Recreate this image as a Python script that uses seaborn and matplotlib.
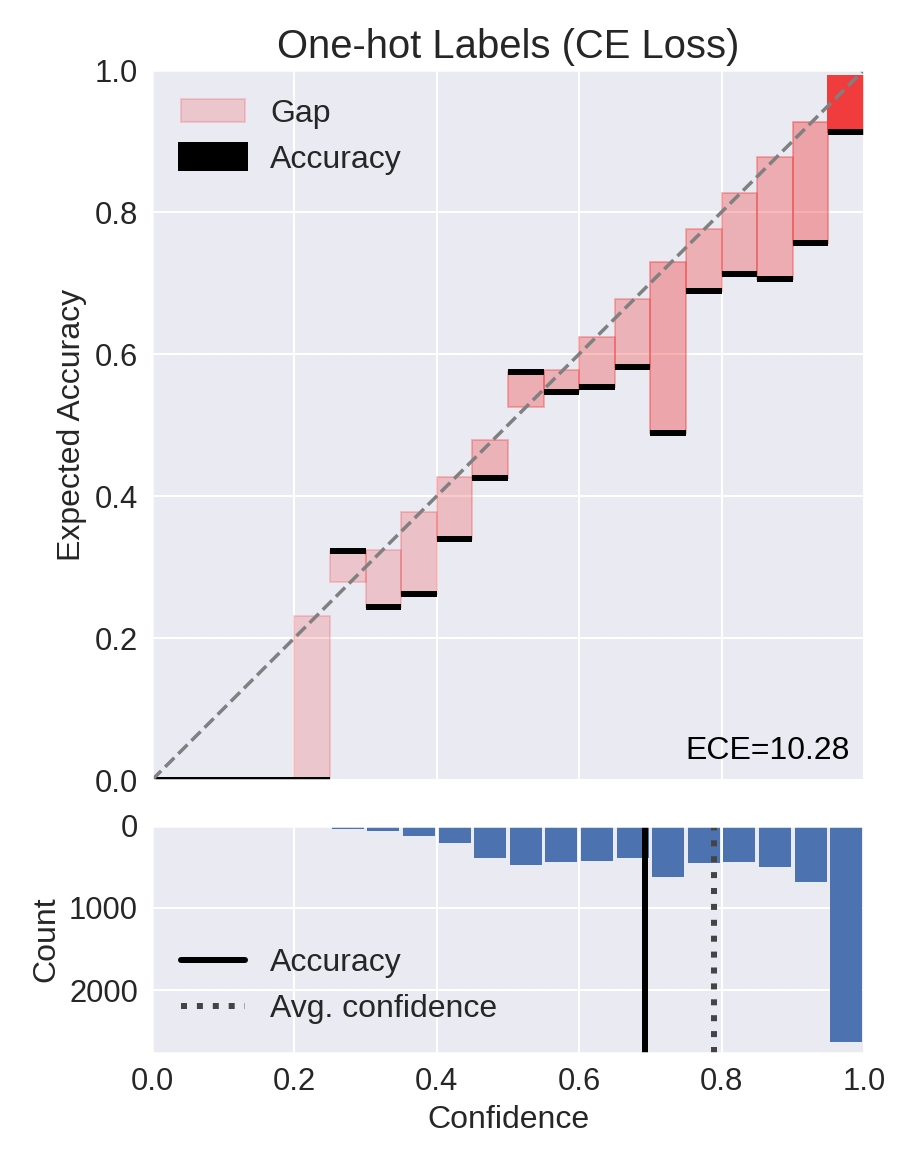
import numpy as np
import matplotlib
matplotlib.use("Agg")
import matplotlib.pyplot as plt
import seaborn as sns

# ---- data ----
bin_lower = [0.00, 0.05, 0.10, 0.15, 0.20, 0.25, 0.30, 0.35, 0.40, 0.45,
             0.50, 0.55, 0.60, 0.65, 0.70, 0.75, 0.80, 0.85, 0.90, 0.95]
accuracy = [0.0, 0.0, 0.0, 0.0, 0.0, 0.322, 0.244, 0.262, 0.339, 0.425,
            0.575, 0.547, 0.554, 0.582, 0.489, 0.689, 0.713, 0.706, 0.757, 0.912]
confidence = [0.0, 0.0, 0.0, 0.0, 0.231, 0.279, 0.324, 0.378, 0.427, 0.479,
              0.526, 0.577, 0.624, 0.677, 0.730, 0.776, 0.827, 0.878, 0.927, 0.991]
counts = [0, 0, 0, 0, 1, 40, 65, 125, 210, 390,
          475, 440, 425, 400, 620, 450, 440, 500, 690, 2625]
avg_accuracy = 0.693
avg_confidence = 0.789
ece_text = "ECE=10.28"
title = "One-hot Labels (CE Loss)"

# ---- style ----
sns.set_theme(style="darkgrid")
plt.rcParams["font.family"] = ["Liberation Sans", "DejaVu Sans"]
plt.rcParams["xtick.major.size"] = 0
plt.rcParams["ytick.major.size"] = 0
plt.rcParams["xtick.major.pad"] = 7
plt.rcParams["ytick.major.pad"] = 7
plt.rcParams["xtick.labelsize"] = 15.5
plt.rcParams["ytick.labelsize"] = 15.5
plt.rcParams["axes.labelsize"] = 16
plt.rcParams["legend.fontsize"] = 16
plt.rcParams["axes.titlesize"] = 20
plt.rcParams["legend.frameon"] = False

DPI = 144
fig = plt.figure(figsize=(915 / DPI, 1162 / DPI), dpi=DPI)
W, H = 915.0, 1162.0
ax1 = fig.add_axes([152 / W, (H - 780) / H, 712 / W, 710 / H])
ax2 = fig.add_axes([152 / W, (H - 1052.5) / H, 712 / W, 227 / H], sharex=ax1)

acc = np.array(accuracy)
conf = np.array(confidence)
cnt = np.array(counts, dtype=float)
bin_size = 0.05
centers = np.array(bin_lower) + bin_size / 2
edges = list(bin_lower) + [1.0]

norm = (cnt - cnt.min()) / (cnt.max() - cnt.min())
alphas = 0.2 + 0.8 * norm
colors = np.zeros((len(cnt), 4))
colors[:, 0] = 240 / 255.
colors[:, 1] = 60 / 255.
colors[:, 2] = 60 / 255.
colors[:, 3] = alphas

gap_plt = ax1.bar(centers, np.abs(acc - conf), bottom=np.minimum(acc, conf),
                  width=bin_size, color=colors, edgecolor=colors, linewidth=1,
                  label="Gap")
acc_plt = ax1.bar(centers, 0, bottom=acc, width=bin_size, color="black",
                  edgecolor="black", linewidth=3, label="Accuracy")
ax1.plot([0, 1], [0, 1], linestyle="--", color="gray", linewidth=1.75)
ax1.text(0.98, 0.02, ece_text, color="black", ha="right", va="bottom",
         transform=ax1.transAxes, fontsize=16)
ax1.set_xlim(0, 1)
ax1.set_ylim(0, 1)
ax1.set_title(title)
ax1.set_ylabel("Expected Accuracy")
ax1.set_xlabel("")
ax1.tick_params(labelbottom=False)
ax1.legend(handles=[gap_plt, acc_plt], loc="upper left")

# ---- upside-down confidence histogram ----
sns.histplot(x=centers, weights=cnt, bins=edges, shrink=0.9, color="#4C72B0",
             alpha=1.0, linewidth=0, ax=ax2)
ax2.set_ylim(cnt.max() * 1.05, 0)
ax2.set_xlim(0, 1)
l1 = ax2.axvline(x=avg_accuracy, ls="solid", lw=3, c="black", label="Accuracy")
l2 = ax2.axvline(x=avg_confidence, ls="dotted", lw=3, c="#444",
                 label="Avg. confidence")
ax2.set_xlabel("Confidence")
ax2.set_ylabel("Count")
ax2.set_yticks([0, 1000, 2000])
ax2.set_xticks([0.0, 0.2, 0.4, 0.6, 0.8, 1.0])
ax2.legend(handles=[l1, l2], loc="lower left")

fig.savefig("out.png", dpi=DPI)
